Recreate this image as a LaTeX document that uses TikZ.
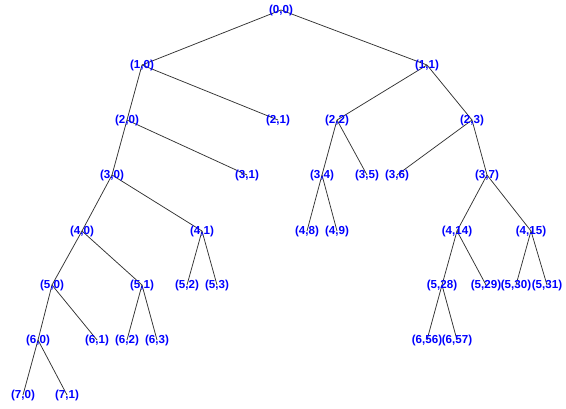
\documentclass[tikz,border=0pt]{standalone}
\usepackage{fontspec}
\setmainfont{Liberation Sans}
\usetikzlibrary{backgrounds}
\definecolor{lblblue}{RGB}{0,0,255}
\tikzset{
  lbl/.style={font=\fontsize{11.6}{12}\selectfont\bfseries, text=lblblue, inner sep=0pt},
  edge/.style={draw=black!80, line width=0.75pt}
}
\begin{document}
\begin{tikzpicture}[x=1pt,y=-1pt]
\useasboundingbox (0,0) rectangle (566,409);
% level 0
\node[lbl] (n00) at (281,11) {(0,0)};
% level 1
\node[lbl] (n10) at (142,66) {(1,0)};
\node[lbl] (n11) at (427,66) {(1,1)};
% level 2
\node[lbl] (n20) at (127,121) {(2,0)};
\node[lbl] (n21) at (278,121) {(2,1)};
\node[lbl] (n22) at (337,121) {(2,2)};
\node[lbl] (n23) at (472,121) {(2,3)};
% level 3
\node[lbl] (n30) at (112,176) {(3,0)};
\node[lbl] (n31) at (247,176) {(3,1)};
\node[lbl] (n34) at (322,176) {(3,4)};
\node[lbl] (n35) at (367,176) {(3,5)};
\node[lbl] (n36) at (397,176) {(3,6)};
\node[lbl] (n37) at (487,176) {(3,7)};
% level 4
\node[lbl] (n40) at (82,232) {(4,0)};
\node[lbl] (n41) at (202,232) {(4,1)};
\node[lbl] (n48) at (307,232) {(4,8)};
\node[lbl] (n49) at (337,232) {(4,9)};
\node[lbl] (n414) at (457,232) {(4,14)};
\node[lbl] (n415) at (531,232) {(4,15)};
% level 5
\node[lbl] (n50) at (52,286) {(5,0)};
\node[lbl] (n51) at (142,286) {(5,1)};
\node[lbl] (n52) at (187,286) {(5,2)};
\node[lbl] (n53) at (217,286) {(5,3)};
\node[lbl] (n528) at (442,286) {(5,28)};
\node[lbl] (n529) at (486,286) {(5,29)};
\node[lbl] (n530) at (516,286) {(5,30)};
\node[lbl] (n531) at (547,286) {(5,31)};
% level 6
\node[lbl] (n60) at (38,341) {(6,0)};
\node[lbl] (n61) at (97,341) {(6,1)};
\node[lbl] (n62) at (127,341) {(6,2)};
\node[lbl] (n63) at (157,341) {(6,3)};
\node[lbl] (n656) at (427,341) {(6,56)};
\node[lbl] (n657) at (457,341) {(6,57)};
% level 7
\node[lbl] (n70) at (23,396) {(7,0)};
\node[lbl] (n71) at (67,396) {(7,1)};
\begin{scope}[on background layer]
\foreach \p/\c in {n00/n10,n00/n11,n10/n20,n10/n21,n11/n22,n11/n23,
  n20/n30,n20/n31,n22/n34,n22/n35,n23/n36,n23/n37,
  n30/n40,n30/n41,n34/n48,n34/n49,n37/n414,n37/n415,
  n40/n50,n40/n51,n41/n52,n41/n53,n414/n528,n414/n529,n415/n530,n415/n531,
  n50/n60,n50/n61,n51/n62,n51/n63,n528/n656,n528/n657,
  n60/n70,n60/n71}
  \draw[edge] ([yshift=1pt]\p.center) -- ([yshift=1pt]\c.center);
\end{scope}
\end{tikzpicture}
\end{document}
